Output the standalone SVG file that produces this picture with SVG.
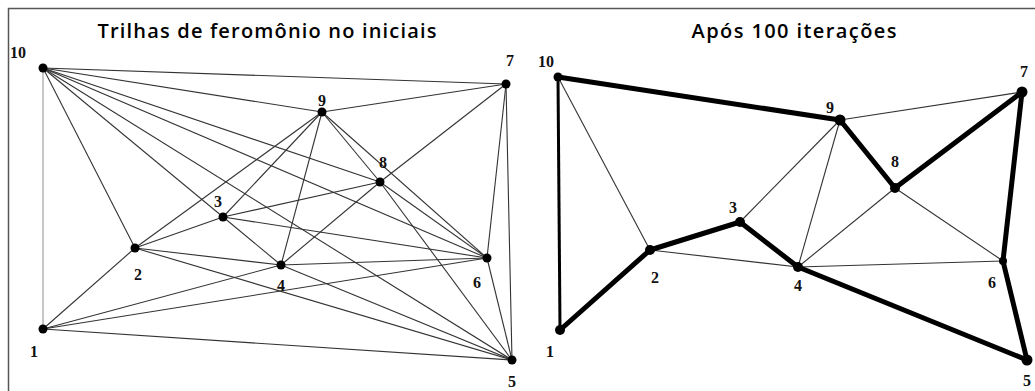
<svg xmlns="http://www.w3.org/2000/svg" width="1035" height="391" viewBox="0 0 1035 391">
<style>
.t{stroke:#333;stroke-width:1.1;fill:none}
.g{stroke:#b4b4b4;stroke-width:1.5;fill:none}
.k{stroke:#000;stroke-width:5;fill:none;stroke-linecap:round;stroke-linejoin:round}
.n{fill:#000}
.lb{font-family:"Liberation Serif",serif;font-weight:bold;font-size:16px;fill:#111;text-anchor:middle}
.ti{font-family:"Open Sans","Noto Sans",sans-serif;font-weight:600;font-size:20px;fill:#000;text-anchor:middle}
.fr{stroke:#555;stroke-width:1.5;fill:none}
</style>
<rect width="1035" height="391" fill="#fff"/>
<path class="fr" d="M8.5,391 V8.5 H1035"/>
<text class="ti" x="267" y="38" textLength="339" lengthAdjust="spacing">Trilhas de feromônio no iniciais</text>
<text class="ti" x="794" y="38" textLength="205" lengthAdjust="spacing">Após 100 iterações</text>

<g id="connectors-left">
<line class="g" x1="43" y1="68" x2="43" y2="329"/>
<line class="t" x1="43" y1="68" x2="506" y2="84"/>
<line class="t" x1="43" y1="68" x2="322" y2="112"/>
<line class="t" x1="43" y1="68" x2="380" y2="182"/>
<line class="t" x1="43" y1="68" x2="487" y2="258"/>
<line class="t" x1="43" y1="68" x2="512" y2="360"/>
<line class="t" x1="43" y1="68" x2="281" y2="265"/>
<line class="t" x1="43" y1="68" x2="135" y2="248"/>
<line class="t" x1="322" y1="112" x2="506" y2="84"/>
<line class="t" x1="322" y1="112" x2="135" y2="248"/>
<line class="t" x1="322" y1="112" x2="223" y2="217"/>
<line class="t" x1="322" y1="112" x2="281" y2="265"/>
<line class="t" x1="322" y1="112" x2="487" y2="258"/>
<line class="t" x1="322" y1="112" x2="380" y2="182"/>
<line class="t" x1="380" y1="182" x2="512" y2="360"/>
<line class="t" x1="380" y1="182" x2="223" y2="217"/>
<line class="t" x1="380" y1="182" x2="506" y2="84"/>
<line class="t" x1="380" y1="182" x2="281" y2="265"/>
<line class="t" x1="380" y1="182" x2="487" y2="258"/>
<line class="t" x1="223" y1="217" x2="135" y2="248"/>
<line class="t" x1="223" y1="217" x2="487" y2="258"/>
<line class="t" x1="135" y1="248" x2="43" y2="329"/>
<line class="t" x1="135" y1="248" x2="281" y2="265"/>
<line class="t" x1="135" y1="248" x2="512" y2="360"/>
<line class="t" x1="281" y1="265" x2="43" y2="329"/>
<line class="t" x1="281" y1="265" x2="487" y2="258"/>
<line class="t" x1="281" y1="265" x2="512" y2="360"/>
<line class="t" x1="487" y1="258" x2="43" y2="329"/>
<line class="t" x1="487" y1="258" x2="506" y2="84"/>
<line class="t" x1="487" y1="258" x2="512" y2="360"/>
<line class="t" x1="43" y1="329" x2="512" y2="360"/>
<line class="t" x1="506" y1="84" x2="512" y2="360"/>
</g>

<g id="connectors-right">
<line class="t" x1="558" y1="77" x2="650" y2="250"/>
<line class="t" x1="840" y1="120" x2="1022" y2="92"/>
<line class="t" x1="840" y1="120" x2="740" y2="222"/>
<line class="t" x1="840" y1="120" x2="798" y2="267"/>
<line class="t" x1="895" y1="188" x2="798" y2="267"/>
<line class="t" x1="895" y1="188" x2="1003" y2="261"/>
<line class="t" x1="650" y1="250" x2="798" y2="267"/>
<line class="t" x1="798" y1="267" x2="1003" y2="261"/>
<line x1="558" y1="77" x2="560" y2="330" style="stroke:#000;stroke-width:3"/>
<polyline class="k" points="558,77 840,120 895,188 1022,92 1003,261 1027,360 798,267 740,222 650,250 560,330"/>
</g>

<g id="node-L1"><circle class="n" cx="43" cy="329" r="4.5"/><text class="lb" x="34" y="357">1</text></g>
<g id="node-L2"><circle class="n" cx="135" cy="248" r="4.5"/><text class="lb" x="138" y="280">2</text></g>
<g id="node-L3"><circle class="n" cx="223" cy="217" r="4.5"/><text class="lb" x="218" y="207">3</text></g>
<g id="node-L4"><circle class="n" cx="281" cy="265" r="4.5"/><text class="lb" x="281" y="291">4</text></g>
<g id="node-L5"><circle class="n" cx="512" cy="360" r="4.5"/><text class="lb" x="512" y="387">5</text></g>
<g id="node-L6"><circle class="n" cx="487" cy="258" r="4.5"/><text class="lb" x="477" y="288">6</text></g>
<g id="node-L7"><circle class="n" cx="506" cy="84" r="4.5"/><text class="lb" x="510" y="66">7</text></g>
<g id="node-L8"><circle class="n" cx="380" cy="182" r="4.5"/><text class="lb" x="383" y="168">8</text></g>
<g id="node-L9"><circle class="n" cx="322" cy="112" r="4.5"/><text class="lb" x="322" y="106">9</text></g>
<g id="node-L10"><circle class="n" cx="43" cy="68" r="4.5"/><text class="lb" x="18" y="58">10</text></g>

<g id="node-R1"><circle class="n" cx="560" cy="330" r="5"/><text class="lb" x="550" y="357">1</text></g>
<g id="node-R2"><circle class="n" cx="650" cy="250" r="5"/><text class="lb" x="655" y="283">2</text></g>
<g id="node-R3"><circle class="n" cx="740" cy="222" r="5"/><text class="lb" x="733" y="213">3</text></g>
<g id="node-R4"><circle class="n" cx="798" cy="267" r="5"/><text class="lb" x="798" y="291">4</text></g>
<g id="node-R5"><circle class="n" cx="1027" cy="360" r="5.5"/><text class="lb" x="1027" y="386">5</text></g>
<g id="node-R6"><circle class="n" cx="1003" cy="261" r="4"/><text class="lb" x="992" y="288">6</text></g>
<g id="node-R7"><circle class="n" cx="1022" cy="92" r="5.5"/><text class="lb" x="1024" y="77">7</text></g>
<g id="node-R8"><circle class="n" cx="895" cy="188" r="5"/><text class="lb" x="895" y="167">8</text></g>
<g id="node-R9"><circle class="n" cx="840" cy="120" r="5.5"/><text class="lb" x="830" y="113">9</text></g>
<g id="node-R10"><circle class="n" cx="558" cy="77" r="4.5"/><text class="lb" x="546" y="67">10</text></g>
</svg>
